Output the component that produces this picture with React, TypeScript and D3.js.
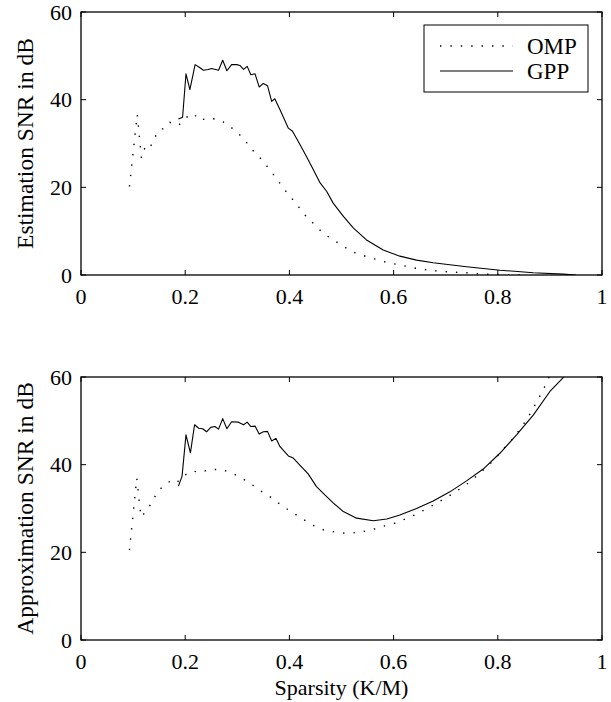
import React from "react";
import * as d3 from "d3";

// ---------- data ----------
const xTicks = [0, 0.2, 0.4, 0.6, 0.8, 1];
const xTickLabels = ["0", "0.2", "0.4", "0.6", "0.8", "1"];
const yTicks = [0, 20, 40, 60];
const yTickLabels = ["0", "20", "40", "60"];
const seriesNames = ["OMP", "GPP"];

// Estimation SNR (top panel)
const estOmpX = [0.093, 0.108, 0.116, 0.122, 0.130, 0.138, 0.148, 0.166, 0.171, 0.187, 0.203, 0.217, 0.226, 0.246, 0.267, 0.286, 0.303, 0.318, 0.332, 0.347, 0.361, 0.376, 0.389, 0.404, 0.430, 0.449, 0.465, 0.484, 0.504, 0.523, 0.548, 0.571, 0.593, 0.612, 0.644, 0.676, 0.708, 0.740, 0.772, 0.800, 0.850];
const estOmpY = [20.2, 36.6, 26.7, 28.8, 28.4, 30.5, 32.8, 33.9, 34.8, 34.1, 36.0, 36.8, 35.3, 35.8, 35.4, 33.9, 32.2, 30.2, 28.1, 26.3, 24.2, 21.9, 19.7, 17.6, 13.7, 11.4, 9.5, 8.0, 6.5, 5.2, 4.2, 3.4, 2.7, 2.3, 1.5, 1.0, 0.7, 0.5, 0.2, 0.1, 0];
const estGppX = [0.187, 0.195, 0.2015, 0.209, 0.219, 0.227, 0.235, 0.244, 0.251, 0.264, 0.272, 0.280, 0.289, 0.299, 0.305, 0.312, 0.319, 0.326, 0.334, 0.342, 0.350, 0.358, 0.366, 0.372, 0.382, 0.398, 0.406, 0.421, 0.433, 0.446, 0.459, 0.472, 0.484, 0.504, 0.523, 0.548, 0.580, 0.612, 0.644, 0.676, 0.740, 0.804, 0.868, 0.926, 0.950];
const estGppY = [35.6, 36.0, 45.9, 42.3, 48.0, 47.4, 46.7, 46.9, 47.1, 46.7, 49.0, 46.6, 48.0, 48.0, 47.8, 46.9, 47.6, 45.7, 45.9, 42.9, 43.7, 43.2, 39.6, 40.2, 37.7, 33.5, 32.8, 29.6, 27.0, 24.0, 21.0, 19.0, 16.4, 13.3, 10.7, 8.0, 5.7, 4.3, 3.4, 2.8, 1.9, 1.1, 0.5, 0.2, 0];

// Approximation SNR (bottom panel)
const apxOmpX = [0.093, 0.107, 0.115, 0.120, 0.128, 0.136, 0.146, 0.160, 0.171, 0.182, 0.196, 0.214, 0.227, 0.248, 0.270, 0.291, 0.312, 0.331, 0.349, 0.368, 0.386, 0.4255, 0.445, 0.466, 0.489, 0.512, 0.534, 0.557, 0.579, 0.601, 0.6225, 0.6435, 0.664, 0.684, 0.704, 0.724, 0.742, 0.760, 0.777, 0.794, 0.809, 0.825, 0.839, 0.852, 0.864, 0.875, 0.886, 0.896, 0.900];
const apxOmpY = [20.5, 36.9, 28.1, 28.7, 30.0, 31.3, 33.7, 35.4, 36.2, 35.7, 37.4, 38.6, 38.2, 38.9, 38.9, 38.0, 36.7, 35.2, 33.7, 32.3, 30.6, 27.6, 26.2, 25.1, 24.6, 24.3, 24.6, 25.1, 25.9, 26.6, 27.6, 28.7, 30.0, 31.3, 32.7, 34.2, 35.7, 37.5, 39.3, 41.2, 43.4, 45.4, 47.5, 49.7, 52.0, 54.4, 56.8, 59.3, 60.5];
const apxGppX = [0.187, 0.194, 0.2015, 0.210, 0.218, 0.226, 0.2335, 0.241, 0.249, 0.257, 0.264, 0.272, 0.280, 0.289, 0.302, 0.312, 0.319, 0.326, 0.334, 0.342, 0.350, 0.358, 0.366, 0.374, 0.382, 0.398, 0.4075, 0.420, 0.436, 0.452, 0.468, 0.484, 0.5035, 0.529, 0.561, 0.587, 0.612, 0.644, 0.676, 0.708, 0.740, 0.772, 0.804, 0.836, 0.868, 0.900, 0.926, 0.932];
const apxGppY = [35.1, 37.4, 46.8, 42.7, 49.1, 48.3, 48.2, 47.5, 48.5, 48.7, 48.1, 50.5, 48.2, 49.8, 49.7, 49.1, 49.7, 48.7, 48.8, 47.0, 47.5, 47.6, 45.4, 46.0, 44.1, 42.0, 41.5, 39.9, 37.9, 35.0, 33.1, 31.3, 29.3, 27.8, 27.2, 27.6, 28.5, 30.0, 31.7, 33.8, 36.3, 39.0, 42.6, 46.8, 51.3, 56.7, 59.9, 60.8];

const FONT = "'Liberation Serif', 'Times New Roman', serif";

type PanelProps = {
  id: string;
  top: number;
  bottom: number;
  yLabel: string;
  ompX: number[];
  ompY: number[];
  gppX: number[];
  gppY: number[];
  legend: boolean;
  xLabel?: string;
};

const LEFT = 81;
const RIGHT = 602;
const TICK = 5;
const DOTS = "1.4 9";

function Panel({ id, top, bottom, yLabel, ompX, ompY, gppX, gppY, legend, xLabel }: PanelProps) {
  const x = d3.scaleLinear().domain([0, 1]).range([LEFT, RIGHT]);
  const y = d3.scaleLinear().domain([0, 60]).range([bottom, top]);
  const line = d3
    .line<[number, number]>()
    .x((d) => x(d[0]))
    .y((d) => y(d[1]));
  const omp = line(ompX.map((v, i) => [v, ompY[i]] as [number, number])) || "";
  const gpp = line(gppX.map((v, i) => [v, gppY[i]] as [number, number])) || "";
  const midY = (top + bottom) / 2;

  return (
    <g>
      <defs>
        <clipPath id={`clip-${id}`}>
          <rect x={LEFT} y={top} width={RIGHT - LEFT} height={bottom - top} />
        </clipPath>
      </defs>
      <g clipPath={`url(#clip-${id})`}>
        <path d={omp} fill="none" stroke="#000" strokeWidth={1.4} strokeDasharray={DOTS} />
        <path d={gpp} fill="none" stroke="#000" strokeWidth={1.1} strokeLinejoin="round" />
      </g>
      {/* box */}
      <rect x={LEFT} y={top} width={RIGHT - LEFT} height={bottom - top} fill="none" stroke="#000" strokeWidth={1.3} />
      {/* x ticks */}
      {xTicks.map((t, i) => (
        <g key={`xt${i}`}>
          <line x1={x(t)} x2={x(t)} y1={bottom} y2={bottom - TICK} stroke="#000" strokeWidth={1} />
          <line x1={x(t)} x2={x(t)} y1={top} y2={top + TICK} stroke="#000" strokeWidth={1} />
          <text x={x(t)} y={bottom + 29} textAnchor="middle" fontFamily={FONT} fontSize={22}>
            {xTickLabels[i]}
          </text>
        </g>
      ))}
      {/* y ticks */}
      {yTicks.map((t, i) => (
        <g key={`yt${i}`}>
          <line x1={LEFT} x2={LEFT + TICK} y1={y(t)} y2={y(t)} stroke="#000" strokeWidth={1} />
          <line x1={RIGHT} x2={RIGHT - TICK} y1={y(t)} y2={y(t)} stroke="#000" strokeWidth={1} />
          <text x={72} y={y(t)} dy="0.35em" textAnchor="end" fontFamily={FONT} fontSize={22}>
            {yTickLabels[i]}
          </text>
        </g>
      ))}
      <text
        transform={`translate(33,${midY}) rotate(-90)`}
        textAnchor="middle"
        fontFamily={FONT}
        fontSize={23.5}
      >
        {yLabel}
      </text>
      {xLabel && (
        <text x={(LEFT + RIGHT) / 2} y={bottom + 55} textAnchor="middle" fontFamily={FONT} fontSize={22}>
          {xLabel}
        </text>
      )}
      {legend && (
        <g>
          <rect x={424} y={25} width={164} height={67} fill="#fff" stroke="#000" strokeWidth={1} />
          <line x1={440} x2={513} y1={46} y2={46} stroke="#000" strokeWidth={1.4} strokeDasharray={DOTS} />
          <text x={527} y={46} dy="0.35em" fontFamily={FONT} fontSize={23}>
            {seriesNames[0]}
          </text>
          <line x1={440} x2={513} y1={71} y2={71} stroke="#000" strokeWidth={1.1} />
          <text x={527} y={71} dy="0.35em" fontFamily={FONT} fontSize={23}>
            {seriesNames[1]}
          </text>
        </g>
      )}
    </g>
  );
}

export default function App() {
  return (
    <svg
      width={611}
      height={702}
      style={{ position: "absolute", left: 0, top: 0, background: "#fff" }}
    >
      <rect width={611} height={702} fill="#fff" />
      <Panel
        id="est"
        top={12}
        bottom={275}
        yLabel="Estimation SNR in dB"
        ompX={estOmpX}
        ompY={estOmpY}
        gppX={estGppX}
        gppY={estGppY}
        legend={true}
      />
      <Panel
        id="apx"
        top={377}
        bottom={640}
        yLabel="Approximation SNR in dB"
        ompX={apxOmpX}
        ompY={apxOmpY}
        gppX={apxGppX}
        gppY={apxGppY}
        legend={false}
        xLabel="Sparsity (K/M)"
      />
    </svg>
  );
}
